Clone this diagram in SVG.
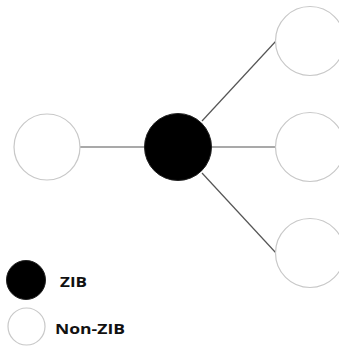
<svg xmlns="http://www.w3.org/2000/svg" width="339" height="348" viewBox="0 0 339 348">
<style>
.n{fill:#fff;stroke:#c8c8c8;stroke-width:1.2}
.z{fill:#000;stroke:#222;stroke-width:1}
.e{stroke:#555;stroke-width:1.2;fill:none}
.t{font-family:"Open Sans",sans-serif;font-weight:bold;font-size:15px;fill:#111}
</style>
<rect width="339" height="348" fill="#fff"/>
<g id="edges">
<line class="e" x1="80" y1="147" x2="145" y2="147"/>
<line class="e" x1="211" y1="147" x2="276" y2="147"/>
<line class="e" x1="202" y1="121" x2="276" y2="41"/>
<line class="e" x1="202" y1="173" x2="276" y2="253"/>
</g>
<g id="left"><circle class="n" cx="47" cy="147" r="33"/></g>
<g id="center"><circle class="z" cx="178" cy="147" r="33.5"/></g>
<g id="rtop"><circle class="n" cx="310" cy="41" r="34.5"/></g>
<g id="rmid"><circle class="n" cx="310" cy="147" r="34.5"/></g>
<g id="rbot"><circle class="n" cx="310" cy="253" r="34.5"/></g>
<g id="legend-zib"><circle class="z" cx="26" cy="280" r="19.5"/><text class="t" x="60" y="287" textLength="27" lengthAdjust="spacingAndGlyphs">ZIB</text></g>
<g id="legend-nonzib"><circle class="n" cx="26.5" cy="326.5" r="18.5"/><text class="t" x="55" y="334" textLength="70" lengthAdjust="spacingAndGlyphs">Non-ZIB</text></g>
</svg>
